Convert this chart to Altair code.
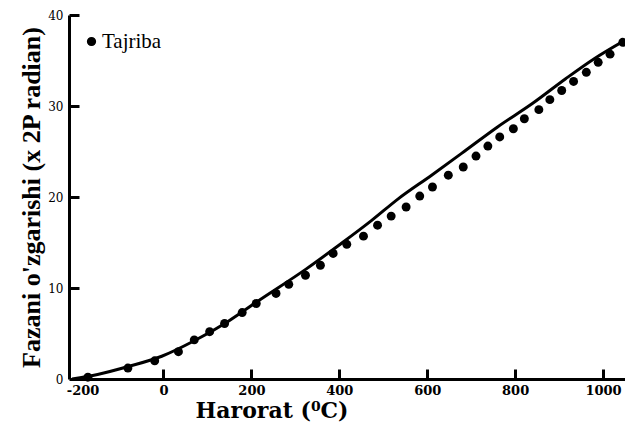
import altair as alt
import pandas as pd

# Experimental points (Tajriba)
exp_x = [-172, -81, -20, 34, 70, 105, 139, 179, 211, 256, 285, 323, 357, 386, 417,
         455, 487, 518, 552, 583, 612, 648, 682, 711, 738, 765, 796, 821, 854, 879,
         906, 933, 962, 989, 1016, 1045]
exp_y = [0.2, 1.2, 2.0, 3.0, 4.3, 5.2, 6.1, 7.3, 8.3, 9.4, 10.4, 11.4, 12.5, 13.8, 14.8,
         15.7, 16.9, 17.9, 18.9, 20.1, 21.1, 22.4, 23.3, 24.5, 25.6, 26.6, 27.5, 28.6, 29.6, 30.7,
         31.7, 32.7, 33.7, 34.8, 35.7, 37.0]

# Theory curve
th_x = [-208, -150, -78, -4, 70, 146, 213, 325, 399, 473, 534, 610, 684, 760, 840, 915, 980, 1049]
th_y = [0.0, 0.5, 1.4, 2.5, 4.2, 6.3, 8.5, 12.1, 14.7, 17.4, 19.8, 22.4, 25.0, 27.7, 30.3, 33.0, 35.2, 37.2]

x_ticks = [-200, 0, 200, 400, 600, 800, 1000]
y_ticks = [0, 10, 20, 30, 40]
x_inner_ticks = [0, 200, 400, 600, 800, 1000]
y_inner_ticks = [10, 20, 30, 40]

W, H = 556, 364
X_MIN, X_MAX = -215, 1050
Y_MIN, Y_MAX = 0, 40
TICK_LEN = 10  # px, inward tick length
SERIF = "Liberation Serif"
WIDE = "DejaVu Serif"

exp_df = pd.DataFrame({"x": exp_x, "y": exp_y, "s": ["Tajriba"] * len(exp_x)})
th_df = pd.DataFrame({"x": th_x, "y": th_y})

xs = alt.Scale(domain=[X_MIN, X_MAX], nice=False, zero=False)
ys = alt.Scale(domain=[Y_MIN, Y_MAX], nice=False)

xaxis = alt.Axis(values=x_ticks, format="d", grid=False, ticks=False,
                 labelExpr="replace(datum.label, '−', '-')",
                 labelOffset={"condition": {"test": "datum.value == -200", "value": 7}, "value": 0},
                 domainColor="black", domainWidth=3,
                 labelFont=WIDE, labelFontSize=13, labelFontWeight="bold",
                 labelColor="black", labelPadding=5,
                 title="Harorat (⁰C)", titleFont=WIDE, titleFontSize=22,
                 titleFontWeight="bold", titleColor="black", titlePadding=3,
                 titleX=126, titleAlign="left")
yaxis = alt.Axis(values=y_ticks, grid=False, ticks=False,
                 domainColor="black", domainWidth=3,
                 labelFont=WIDE, labelFontSize=12, labelColor="black", labelPadding=6,
                 title="Fazani o'zgarishi (x 2P radian)", titleFont=SERIF, titleFontSize=26,
                 titleFontWeight="bold", titleColor="black", titlePadding=3)

# Axes that only carry the inward ticks: moved inside the plot by TICK_LEN,
# with outward ticks of TICK_LEN so that they end on the main axis line.
ytick_axis = alt.Axis(orient="left", offset=-TICK_LEN, values=y_inner_ticks,
                      domain=False, labels=False, grid=False, title=None,
                      ticks=True, tickSize=TICK_LEN, tickWidth=3, tickColor="black")
xtick_axis = alt.Axis(orient="bottom", offset=-TICK_LEN, values=x_inner_ticks,
                      domain=False, labels=False, grid=False, title=None,
                      ticks=True, tickSize=TICK_LEN, tickWidth=3, tickColor="black")

line = alt.Chart(th_df).mark_line(color="black", strokeWidth=3, interpolate="monotone").encode(
    x=alt.X("x:Q", scale=xs, axis=xaxis),
    y=alt.Y("y:Q", scale=ys, axis=yaxis),
)

pts = alt.Chart(exp_df).mark_point(filled=True, shape="circle", size=80, opacity=1).encode(
    x=alt.X("x:Q", scale=xs, axis=None),
    y=alt.Y("y:Q", scale=ys, axis=None),
    color=alt.Color("s:N", scale=alt.Scale(range=["black"]),
                    legend=alt.Legend(title=None, orient="none", legendX=12, legendY=16,
                                      symbolType="circle", symbolSize=60,
                                      symbolFillColor="black", symbolStrokeColor="black",
                                      labelFont=SERIF, labelFontSize=21, labelColor="black",
                                      labelOffset=0)),
)

ytk = alt.Chart(pd.DataFrame({"yv": y_inner_ticks})).mark_point(opacity=0).encode(
    y=alt.Y("yv:Q", scale=ys, axis=ytick_axis)
)
xtk = alt.Chart(pd.DataFrame({"xv": x_inner_ticks})).mark_point(opacity=0).encode(
    x=alt.X("xv:Q", scale=xs, axis=xtick_axis)
)

chart = alt.layer(line, pts, ytk, xtk).resolve_axis(
    x="independent", y="independent"
).properties(
    width=W, height=H,
    autosize=alt.AutoSizeParams(type="none"),
    padding={"left": 61, "top": 7, "right": 0, "bottom": 43},
    background="white",
).configure_view(stroke=None)

chart.save("out.html", embed_options={"renderer": "svg", "actions": False})
